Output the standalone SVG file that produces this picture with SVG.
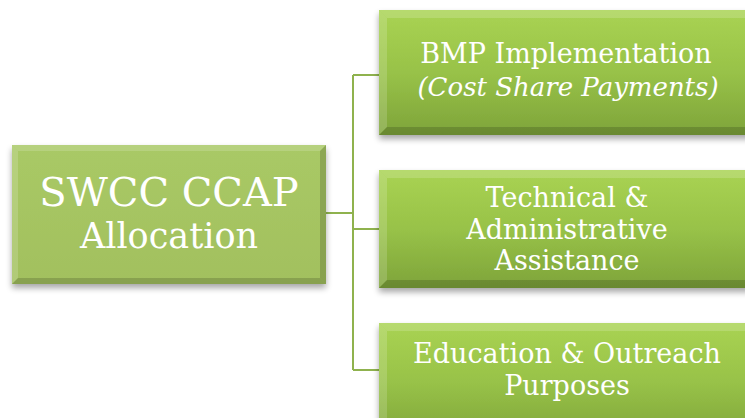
<svg xmlns="http://www.w3.org/2000/svg" width="745" height="418" viewBox="0 0 745 418">
<defs>
<linearGradient id="gR" x1="0" y1="0" x2="0" y2="1">
<stop offset="0" stop-color="#a9d353"/>
<stop offset="0.5" stop-color="#98c248"/>
<stop offset="1" stop-color="#7ea43a"/>
</linearGradient>
<linearGradient id="gL" x1="0" y1="0" x2="0" y2="1">
<stop offset="0" stop-color="#a9c966"/>
<stop offset="1" stop-color="#a2c05e"/>
</linearGradient>
<filter id="sh" x="-10%" y="-10%" width="120%" height="130%">
<feGaussianBlur in="SourceAlpha" stdDeviation="3"/>
<feOffset dx="0" dy="4" result="b"/>
<feComponentTransfer><feFuncA type="linear" slope="0.35"/></feComponentTransfer>
<feMerge><feMergeNode/><feMergeNode in="SourceGraphic"/></feMerge>
</filter>
</defs>
<style>
.t{fill:#ffffff;text-anchor:middle}
.hi{fill:#ffffff;opacity:0.16}
.lo{fill:#000000;opacity:0.16}
.ln{fill:none;stroke:#8fb24e;stroke-width:2}
</style>
<g id="connectors">
<path class="ln" d="M326,213 H353 M353,75 V370 M353,75 H379 M353,229 H379 M353,370 H379"/>
</g>
<g id="root" font-family="DejaVu Serif, serif">
<rect x="12" y="145" width="314" height="139" fill="url(#gL)" filter="url(#sh)"/>
<polygon class="hi" points="12,145 326,145 320,151 18,151"/>
<polygon class="hi" points="12,145 18,151 18,278 12,284" opacity="0.1"/>
<polygon class="lo" points="326,145 326,284 320,278 320,151"/>
<polygon class="lo" points="12,284 326,284 320,278 18,278"/>
<text class="t" x="169" y="206" font-size="40">SWCC CCAP</text>
<text class="t" x="169" y="248" font-size="35">Allocation</text>
</g>
<g id="n1" font-family="DejaVu Serif, serif">
<rect x="379" y="10" width="380" height="125" fill="url(#gR)" filter="url(#sh)"/>
<polygon class="hi" points="379,10 759,10 751,18 387,18"/>
<polygon class="hi" points="379,10 387,18 387,127 379,135" opacity="0.1"/>
<polygon class="lo" points="379,135 759,135 751,127 387,127"/>
<text class="t" x="566" y="63" font-size="27">BMP Implementation</text>
<text class="t" x="568" y="96" font-size="26" font-style="italic">(Cost Share Payments)</text>
</g>
<g id="n2" font-family="DejaVu Serif, serif">
<rect x="379" y="170" width="380" height="118" fill="url(#gR)" filter="url(#sh)"/>
<polygon class="hi" points="379,170 759,170 751,178 387,178"/>
<polygon class="hi" points="379,170 387,178 387,280 379,288" opacity="0.1"/>
<polygon class="lo" points="379,288 759,288 751,280 387,280"/>
<text class="t" x="567" y="207" font-size="27">Technical &amp;</text>
<text class="t" x="567" y="239" font-size="27">Administrative</text>
<text class="t" x="567" y="270" font-size="27">Assistance</text>
</g>
<g id="n3" font-family="DejaVu Serif, serif">
<rect x="379" y="323" width="380" height="118" fill="url(#gR)" filter="url(#sh)"/>
<polygon class="hi" points="379,323 759,323 751,331 387,331"/>
<polygon class="hi" points="379,323 387,331 387,433 379,441" opacity="0.1"/>
<text class="t" x="567" y="363" font-size="27">Education &amp; Outreach</text>
<text class="t" x="567" y="395" font-size="27">Purposes</text>
</g>
</svg>
